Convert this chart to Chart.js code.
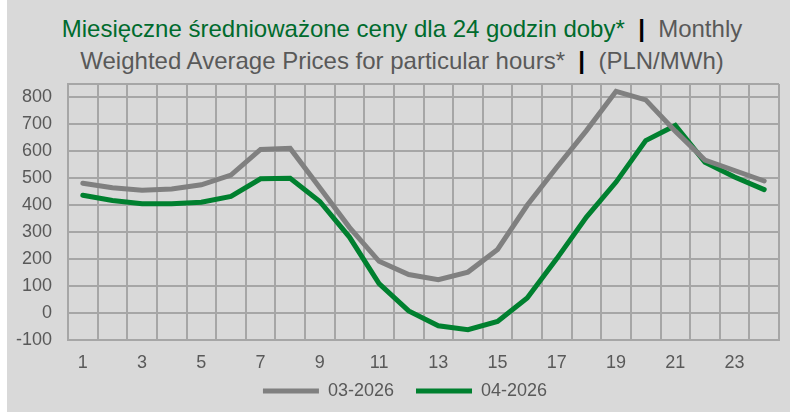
<!DOCTYPE html>
<html lang="pl">
<head>
    <meta charset="UTF-8">
    <title>Miesięczne średnioważone ceny</title>
    <script src="https://cdn.jsdelivr.net/npm/chart.js"></script>
    <style>
        body { margin: 0; background: #fff; width: 798px; height: 412px; position: relative; overflow: hidden; }
        #panel { position: absolute; left: 7px; top: 0; width: 783px; height: 412px; background: #d9d9d9; }
        #title { position: absolute; left: 0; top: 13px; width: 804px; text-align: center;
                 font-family: 'Liberation Sans', Arial, sans-serif; font-size: 24px; line-height: 32px; color: #595959; }
        #title .pl { color: #006b2d; }
        #title .sep { color: #000; font-weight: bold; }
        #wrap { position: absolute; left: 0; top: 0; width: 795px; height: 412px; }
    </style>
</head>
<body>
    <div id="panel"></div>
    <div id="title">
        <span class="pl">Miesięczne średnioważone ceny dla 24 godzin doby*</span>&nbsp;&nbsp;<span class="sep">|</span>&nbsp;&nbsp;Monthly<br>
        Weighted Average Prices for particular hours*&nbsp;&nbsp;<span class="sep">|</span>&nbsp;&nbsp;(PLN/MWh)
    </div>
    <div id="wrap"><canvas id="chart"></canvas></div>

    <script>
        // godziny doby
        const hours = ['1','2','3','4','5','6','7','8','9','10','11','12','13','14','15','16','17','18','19','20','21','22','23','24'];
        // ceny PLN/MWh
        const march2026 = [482, 465, 456, 460, 476, 512, 607, 611, 465, 318, 192, 143, 124, 152, 236, 400, 541, 677, 823, 791, 675, 568, 529, 490];
        const april2026 = [437, 418, 406, 406, 411, 433, 498, 500, 414, 282, 109, 8, -47, -62, -31, 56, 202, 356, 486, 640, 696, 560, 505, 458];
        const yTicks = [-100, 0, 100, 200, 300, 400, 500, 600, 700, 800, 850];

        const gridColor = '#a6a6a6';
        const textColor = '#595959';
        const font = { family: "'Liberation Sans', Arial, sans-serif", size: 18 };

        // legenda trochę wyżej i w prawo, jak w oryginale
        const legendShift = {
            id: 'legendShift',
            afterLayout(chart) {
                const lg = chart.legend;
                lg.top -= 18; lg.bottom -= 18;
                lg.left += 8; lg.right += 8;
            }
        };

        const ctx = document.getElementById('chart').getContext('2d');
        const chart = new Chart(ctx, {
            type: 'line',
            data: {
                labels: hours,
                datasets: [{
                    label: '03-2026',
                    data: march2026,
                    borderColor: '#808080',
                    backgroundColor: '#808080',
                    borderWidth: 5,
                    borderCapStyle: 'round',
                    pointRadius: 0,
                    tension: 0
                }, {
                    label: '04-2026',
                    data: april2026,
                    borderColor: '#00802f',
                    backgroundColor: '#00802f',
                    borderWidth: 5,
                    borderCapStyle: 'round',
                    pointRadius: 0,
                    tension: 0
                }]
            },
            plugins: [legendShift],
            options: {
                responsive: true,
                maintainAspectRatio: false,
                animation: false,
                layout: { padding: { top: 84, left: 15, right: 16, bottom: -16 } },
                scales: {
                    x: {
                        offset: true,
                        afterFit: function(scale) { scale.height = 38; },
                        grid: { color: gridColor, lineWidth: 2, offset: true, drawTicks: false },
                        border: { color: gridColor, width: 2 },
                        ticks: {
                            color: textColor, font: font, padding: 12,
                            autoSkip: false, maxRotation: 0,
                            callback: function(v, i) { return i % 2 === 0 ? hours[i] : ''; }
                        }
                    },
                    y: {
                        min: -100,
                        max: 850,
                        afterBuildTicks: function(scale) {
                            scale.ticks = yTicks.map(v => ({ value: v }));
                        },
                        afterFit: function(scale) { scale.width = 53; },
                        grid: { color: gridColor, lineWidth: 2, drawTicks: false },
                        border: { color: gridColor, width: 2 },
                        ticks: {
                            color: textColor, font: font, padding: 16, autoSkip: false,
                            callback: function(v) { return v === 850 ? '' : v; }
                        }
                    }
                },
                plugins: {
                    title: { display: false },
                    tooltip: { enabled: false },
                    legend: {
                        position: 'bottom',
                        labels: {
                            color: textColor,
                            font: font,
                            usePointStyle: true,
                            pointStyle: 'line',
                            pointStyleWidth: 56,
                            padding: 22
                        }
                    }
                }
            }
        });
    </script>
</body>
</html>
